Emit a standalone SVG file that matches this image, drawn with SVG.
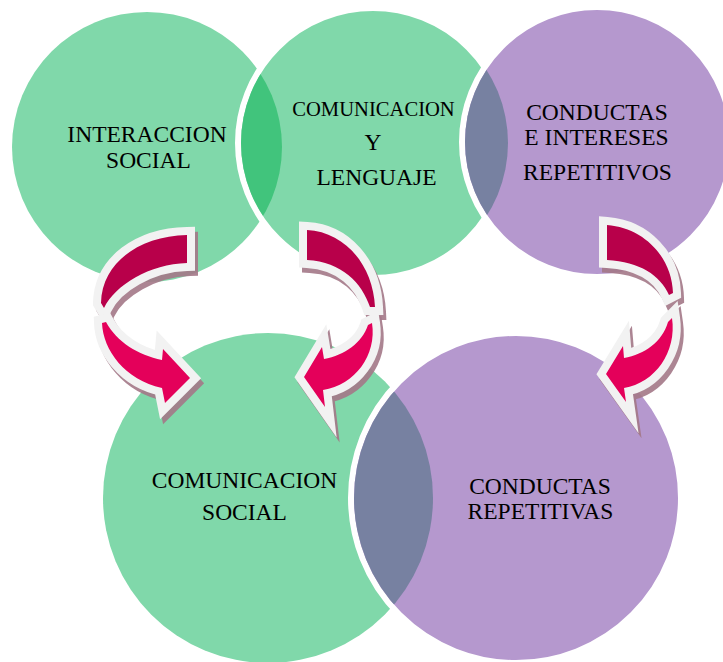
<svg xmlns="http://www.w3.org/2000/svg" width="723" height="662" viewBox="0 0 723 662">
<style>
.g{fill:#80D8AA}
.p{fill:#B598CE}
.ow{stroke:#FFFFFF;stroke-width:6}
.lg{fill:#41C47C}
.lb{fill:#7781A1}
.t{font-family:"Liberation Serif","Times New Roman",serif;font-size:23.5px;fill:#000;text-anchor:middle}
.sh{fill:#A47888;stroke:#A47888;stroke-width:16;stroke-linejoin:miter;stroke-miterlimit:10;opacity:0.9}
.dk{fill:#B8004A;stroke:#F2F2F2;stroke-width:16;stroke-linejoin:miter;stroke-miterlimit:10;paint-order:stroke}
.br{fill:#E4005A;stroke:#F2F2F2;stroke-width:16;stroke-linejoin:miter;stroke-miterlimit:10;paint-order:stroke}
</style>
<defs>
<clipPath id="c2in"><circle cx="373" cy="143" r="132"/></clipPath>
<clipPath id="c3in"><circle cx="597" cy="142" r="132"/></clipPath>
<clipPath id="c5in"><circle cx="516" cy="498" r="162"/></clipPath>
</defs>
<rect width="723" height="662" fill="#FFFFFF"/>
<g id="interaccion-social">
<circle class="g" cx="147" cy="147" r="135"/>
</g>
<g id="comunicacion-lenguaje">
<circle class="g ow" cx="373" cy="143" r="135"/>
<circle class="lg" cx="147" cy="147" r="135" clip-path="url(#c2in)"/>
</g>
<g id="conductas-intereses">
<circle class="p ow" cx="597" cy="142" r="135"/>
<circle class="lb" cx="373" cy="143" r="135" clip-path="url(#c3in)"/>
</g>
<g id="comunicacion-social">
<circle class="g" cx="268" cy="498" r="165"/>
</g>
<g id="conductas-repetitivas">
<circle class="p ow" cx="516" cy="498" r="165"/>
<circle class="lb" cx="268" cy="498" r="165" clip-path="url(#c5in)"/>
</g>
<g id="connectors">
<g transform="translate(3,5)">
<path class="sh" d="M187,235 C140,236 102,262 101,303 L104,308 C115,285 150,264 187,263 Z"/>
<path class="sh" d="M102,323 C103,350 125,380 162,388 L165,403 L190,378 L163,349 L162,360 C138,355 117,342 106,322 Z"/>
<path class="sh" d="M307,230 C345,232 373,265 375,307 L370,307 C362,283 342,262 307,260 Z"/>
<path class="sh" d="M372,323 C377,355 355,385 323,390 L325,407 L304,377 L322,347 L324,359 C345,355 362,343 368,325 Z"/>
<path class="sh" d="M607,225 C645,228 672,258 673,293 L669,295 C660,275 640,262 607,260 Z"/>
<path class="sh" d="M672,318 C677,352 655,383 624,388 L626,402 L606,374 L623,346 L624,358 C645,354 662,342 668,322 Z"/>
</g>
<path class="dk" d="M187,235 C140,236 102,262 101,303 L104,308 C115,285 150,264 187,263 Z"/>
<path class="br" d="M102,323 C103,350 125,380 162,388 L165,403 L190,378 L163,349 L162,360 C138,355 117,342 106,322 Z"/>
<path class="dk" d="M307,230 C345,232 373,265 375,307 L370,307 C362,283 342,262 307,260 Z"/>
<path class="br" d="M372,323 C377,355 355,385 323,390 L325,407 L304,377 L322,347 L324,359 C345,355 362,343 368,325 Z"/>
<path class="dk" d="M607,225 C645,228 672,258 673,293 L669,295 C660,275 640,262 607,260 Z"/>
<path class="br" d="M672,318 C677,352 655,383 624,388 L626,402 L606,374 L623,346 L624,358 C645,354 662,342 668,322 Z"/>
</g>
<g id="labels">
<text class="t" x="147" y="142">INTERACCION</text>
<text class="t" x="148.5" y="168">SOCIAL</text>
<text class="t" x="373.5" y="116" style="font-size:20.6px">COMUNICACION</text>
<text class="t" x="373" y="150">Y</text>
<text class="t" x="376.5" y="185">LENGUAJE</text>
<text class="t" x="597" y="120">CONDUCTAS</text>
<text class="t" x="596.5" y="145">E INTERESES</text>
<text class="t" x="597.5" y="180">REPETITIVOS</text>
<text class="t" x="244.5" y="488">COMUNICACION</text>
<text class="t" x="244.5" y="520">SOCIAL</text>
<text class="t" x="540" y="494">CONDUCTAS</text>
<text class="t" x="540.5" y="519">REPETITIVAS</text>
</g>
</svg>
